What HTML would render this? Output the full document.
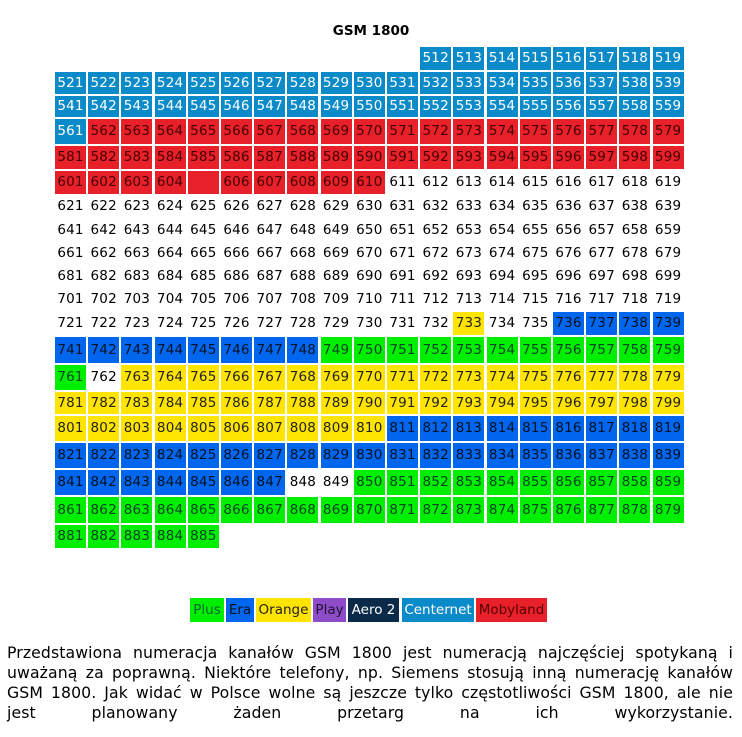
<!DOCTYPE html>
<html><head><meta charset="utf-8"><style>
body{margin:0;width:742px;height:737px;background:#fff;position:relative;overflow:hidden;font-family:"DejaVu Sans","Liberation Sans",sans-serif}
#title{position:absolute;left:0;width:742px;top:23px;text-align:center;font-weight:bold;font-size:13.5px}
.cell{position:absolute;width:31px;font-size:13.5px;text-align:center;box-sizing:border-box;color:#000;letter-spacing:0.2px}
.lg{position:absolute;top:598px;height:24px;line-height:24px;font-size:13.5px;text-align:center}
#para{position:absolute;left:7px;width:726px;top:643px;font-size:15.7px;line-height:20px;letter-spacing:0.1px}
#para div{text-align:justify;text-align-last:justify;white-space:nowrap;height:20px}
</style></head><body>
<div id="title">GSM 1800</div>
<div id="grid"></div>
<div>
<div class="lg" style="left:190px;width:34px;background:#00ee00;color:#063">Plus</div>
<div class="lg" style="left:226px;width:28px;background:#0066ee;color:#012">Era</div>
<div class="lg" style="left:256px;width:55px;background:#ffe400;color:#222">Orange</div>
<div class="lg" style="left:313px;width:33px;background:#8e4cc8;color:#213">Play</div>
<div class="lg" style="left:348px;width:51px;background:#0b2a4a;color:#fff">Aero 2</div>
<div class="lg" style="left:402px;width:72px;background:#0a8ac8;color:#fff">Centernet</div>
<div class="lg" style="left:476px;width:71px;background:#e8202a;color:#500">Mobyland</div>
</div>
<div id="para"><div>Przedstawiona numeracja kanałów GSM 1800 jest numeracją najczęściej spotykaną i</div><div>uważaną za poprawną. Niektóre telefony, np. Siemens stosują inną numerację kanałów</div><div>GSM 1800. Jak widać w Polsce wolne są jeszcze tylko częstotliwości GSM 1800, ale nie</div><div>jest planowany żaden przetarg na ich wykorzystanie.</div></div>
<script>
const channelStart = 512;
const channelEnd = 885;
const operators = ['centernet','mobyland','era','plus','orange'];
const centernetRanges = [[512,561]];
const mobylandRanges = [[562,610]];
const eraRanges = [[736,748],[811,847]];
const plusRanges = [[749,761],[850,885]];
const orangeRanges = [[733,733],[763,810]];
const hiddenLabels = [605];
const colors = {centernet:['#0a8ac8','#fff'],mobyland:['#e8202a','#400'],era:['#0066ee','#012'],plus:['#00ee00','#042'],orange:['#ffe400','#222']};
const rangesBy = {centernet:centernetRanges,mobyland:mobylandRanges,era:eraRanges,plus:plusRanges,orange:orangeRanges};
const rowTops = [47,72,96,119,146,171,196,219,243,266,289,312,337,365,392,416,443,470,497,525,550];
function opOf(n){for(const o of operators){for(const r of rangesBy[o]){if(n>=r[0]&&n<=r[1])return o;}}return null;}
const grid=document.getElementById('grid');
for(let n=channelStart;n<=channelEnd;n++){
  if(n%20===0) continue;
  const col=(n-1)%20;
  const ri = n<521?0:Math.floor((n-521)/20)+1;
  const top=rowTops[ri], h=rowTops[ri+1]-top-2;
  const el=document.createElement('div');
  el.className='cell';
  
  
  el.style.left=(55+col*33.2)+'px';
  el.style.top=top+'px';
  el.style.height=h+'px';
  el.style.lineHeight=h+'px';
  const o=opOf(n);
  if(o){el.style.background=colors[o][0];el.style.color=colors[o][1];}
  el.textContent=hiddenLabels.includes(n)?'':String(n);
  grid.appendChild(el);
}
</script>
</body></html>
